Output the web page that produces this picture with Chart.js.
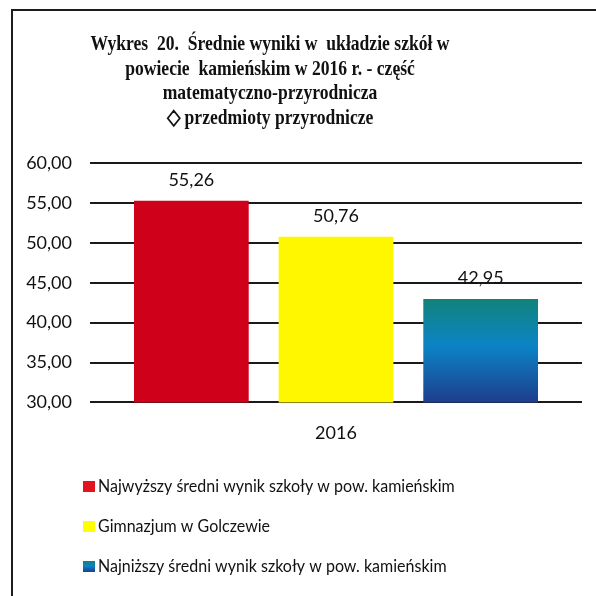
<!DOCTYPE html>
<html>
<head>
<meta charset="utf-8">
<script src="https://cdn.jsdelivr.net/npm/chart.js@4"></script>
<style>
html, body { margin: 0; padding: 0; background: #fff; }
#wrap { position: relative; width: 596px; height: 596px; overflow: hidden; }
#frame { position: absolute; left: 11px; top: 9px; width: 600px; height: 600px; border-top: 2px solid #1c1c1c; border-left: 2px solid #1c1c1c; }
#myChart { position: absolute; left: 0; top: 0; }
</style>
</head>
<body>
<div id="wrap">
  <div id="frame"></div>
  <canvas id="myChart" width="596" height="596"></canvas>
</div>
<script>
// data
var categories = ['2016'];
var seriesNames = [
    'Najwyższy średni wynik szkoły w pow. kamieńskim',
    'Gimnazjum w Golczewie',
    'Najniższy średni wynik szkoły w pow. kamieńskim'
];
var seriesValues = [55.26, 50.76, 42.95];
var yMin = 30, yMax = 60, yStep = 5;
var titleLines = [
    'Wykres  20.  Średnie wyniki w  układzie szkół w',
    'powiecie  kamieńskim w 2016 r. - część',
    'matematyczno-przyrodnicza',
    '◇ przedmioty przyrodnicze'
];

var sansFont = 'Lato, "Open Sans", sans-serif';

function fmt(v) {
    return v.toFixed(2).replace('.', ',');
}

function blueGradient(c, top, bottom) {
    var g = c.createLinearGradient(0, top, 0, bottom);
    g.addColorStop(0, '#12837a');
    g.addColorStop(0.45, '#0b84c6');
    g.addColorStop(1, '#1e3d8c');
    return g;
}

var colors = ['#cf0019', '#fff700', null];
var legendColors = ['#e2141f', '#ffff00', null];

// title drawn as text lines (condensed serif like the scan)
var titlePlugin = {
    id: 'titleLines',
    afterDraw: function(chart) {
        var c = chart.ctx;
        var sx = 0.8;
        c.save();
        c.fillStyle = '#111';
        c.font = 'bold 22px "Liberation Serif", "Times New Roman", serif';
        c.textAlign = 'center';
        c.textBaseline = 'alphabetic';
        c.scale(sx, 1);
        for (var i = 0; i < titleLines.length; i++) {
            c.fillText(titleLines[i], 270 / sx, 50 + i * 24.5);
        }
        c.restore();
    }
};

// values above bars
var valuePlugin = {
    id: 'barValues',
    afterDatasetsDraw: function(chart) {
        var c = chart.ctx;
        c.save();
        c.fillStyle = '#111';
        c.font = '18px ' + sansFont;
        c.textAlign = 'center';
        c.textBaseline = 'alphabetic';
        chart.data.datasets.forEach(function(ds, i) {
            var meta = chart.getDatasetMeta(i);
            meta.data.forEach(function(bar, j) {
                c.fillText(fmt(ds.data[j]), bar.x, bar.y - 15);
            });
        });
        c.restore();
    }
};

// vertical legend at the bottom left
var legendPlugin = {
    id: 'vertLegend',
    afterDraw: function(chart) {
        var c = chart.ctx;
        var sx = 0.89;
        c.save();
        c.font = '18px ' + sansFont;
        c.textBaseline = 'alphabetic';
        chart.data.datasets.forEach(function(ds, i) {
            var base = 492 + i * 40;
            var fill = legendColors[i] || blueGradient(c, base - 11, base);
            c.fillStyle = fill;
            c.fillRect(83, base - 11, 12, 11);
            c.save();
            c.scale(sx, 1);
            c.fillStyle = '#111';
            c.fillText(ds.label, 98 / sx, base);
            c.restore();
        });
        c.restore();
    }
};

var datasets = seriesNames.map(function(name, i) {
    return {
        label: name,
        data: [seriesValues[i]],
        backgroundColor: function(ctx) {
            if (colors[i]) return colors[i];
            var chart = ctx.chart;
            if (!chart.chartArea) return '#0b84c6';
            var top = chart.scales.y.getPixelForValue(seriesValues[i]);
            return blueGradient(chart.ctx, top, chart.chartArea.bottom);
        },
        borderWidth: 0,
        categoryPercentage: 0.882,
        barPercentage: 0.793
    };
});

var ctx = document.getElementById('myChart').getContext('2d');
var myChart = new Chart(ctx, {
    type: 'bar',
    data: {
        labels: categories,
        datasets: datasets
    },
    options: {
        responsive: false,
        animation: false,
        layout: {
            padding: { top: 163, left: 12, right: 14, bottom: 132 }
        },
        plugins: {
            legend: { display: false },
            title: { display: false },
            tooltip: { enabled: false }
        },
        scales: {
            x: {
                grid: { display: false, drawTicks: false },
                border: { display: false },
                ticks: {
                    color: '#111',
                    font: { family: sansFont, size: 18 },
                    padding: 20
                }
            },
            y: {
                min: yMin,
                max: yMax,
                afterFit: function(scale) { scale.width = 78; },
                grid: { color: '#1a1a1a', lineWidth: 2, drawTicks: false },
                border: { display: false },
                ticks: {
                    stepSize: yStep,
                    color: '#111',
                    font: { family: sansFont, size: 18 },
                    padding: 18,
                    callback: function(v) { return fmt(v); }
                }
            }
        }
    },
    plugins: [titlePlugin, valuePlugin, legendPlugin]
});
</script>
</body>
</html>
